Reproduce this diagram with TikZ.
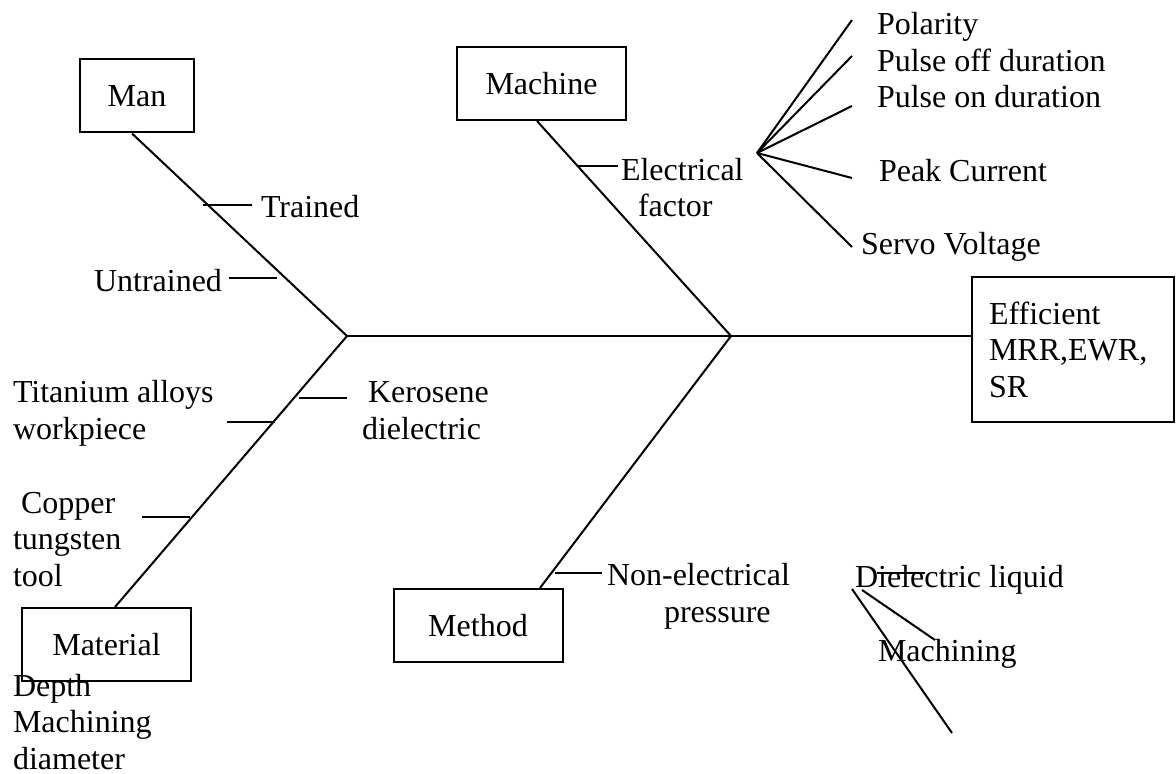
\documentclass[tikz,border=0pt]{standalone}
\usepackage{fontspec}
\setmainfont{Liberation Serif}
\tikzset{
  causebox/.style={draw, line width=1pt, minimum width=84.5pt, minimum height=36.5pt, inner sep=2pt},
  lbl/.style={anchor=base west, inner sep=0pt, align=left},
}
\begin{document}
\begin{tikzpicture}[x=0.5pt,y=-0.5pt,line width=1pt,font=\fontsize{16}{18.2}\selectfont]
\useasboundingbox (0,0) rectangle (1176,774);
% boxes
\node[causebox, minimum width=57pt] (man) at (137,96) {Man};
\node[causebox] (machine) at (541.5,83.5) {Machine};
\node[causebox] (material) at (106.5,644.5) {Material};
\node[causebox] (method) at (478,625.5) {Method};
\node[draw, minimum width=101pt, minimum height=72.5pt, text width=84pt, inner xsep=8.5pt, align=left] (effect) at (1073,349.5) {Efficient\\MRR,EWR,\\SR};
% spine and bones
\coordinate (j1) at (347,336);
\coordinate (j2) at (731,336);
\draw (j1) -- (effect.west |- j1);
\draw ([xshift=-2.5pt]man.south) -- (j1);
\draw ([xshift=-2.25pt]machine.south) -- (j2);
\draw ([xshift=4.25pt]material.north) -- (j1);
\draw ([xshift=31pt]method.north) -- (j2);
% ticks
\coordinate (t1a) at (203,205); \coordinate (t1b) at (252,205);
\coordinate (t2a) at (229,278); \coordinate (t2b) at (277,278);
\coordinate (t3a) at (578,166); \coordinate (t3b) at (618,166);
\coordinate (t4a) at (299,398); \coordinate (t4b) at (347,398);
\coordinate (t5a) at (227,422); \coordinate (t5b) at (275,422);
\coordinate (t6a) at (142,517); \coordinate (t6b) at (190,517);
\coordinate (t7a) at (555,573); \coordinate (t7b) at (602,573);
\foreach \a/\b in {t1a/t1b,t2a/t2b,t3a/t3b,t4a/t4b,t5a/t5b,t6a/t6b,t7a/t7b}
  \draw (\a) -- (\b);
% labels (multi-line ones sit on their last baseline)
\node[lbl] (trained) at (260,218) {Trained};
\node[lbl] (untrained) at (93,292) {Untrained};
\node[lbl] (elec) at (620,217) {Electrical\\\hspace*{8.5pt}factor};
\node[lbl] (kero) at (361,439) {\hspace*{3pt}Kerosene\\dielectric};
\node[lbl] (tita) at (12,439) {Titanium alloys\\workpiece};
\node[lbl] (copper) at (12,586) {\hspace*{4pt}Copper\\tungsten\\tool};
\node[lbl] (depth) at (12,769) {Depth\\Machining\\diameter};
\node[lbl] (nonel) at (606,622) {Non-electrical\\\hspace*{28.5pt}pressure};
% electrical factors
\coordinate (fan) at (757,153);
\node[lbl] (pol) at (876,35) {Polarity};
\node[lbl] (poff) at (876,72) {Pulse off duration};
\node[lbl] (pon) at (876,108) {Pulse on duration};
\node[lbl] (peak) at (878,182) {Peak Current};
\node[lbl] (servo) at (860,255) {Servo Voltage};
\coordinate (f1) at (852,20);
\coordinate (f2) at (852,56);
\coordinate (f3) at (852,106);
\coordinate (f4) at (852,178);
\coordinate (f5) at (852,247);
\foreach \f in {f1,f2,f3,f4,f5}
  \draw (fan) -- (\f);
% dielectric
\node[lbl] (diel) at (854,587) {Dielectric liquid};
\node[lbl] (mach) at (877,661) {Machining};
\coordinate (d1) at (852,589); \coordinate (d2) at (952,733);
\coordinate (d3) at (862,590); \coordinate (d4) at (935,640);
\coordinate (d5) at (877,573); \coordinate (d6) at (925,573);
\draw (d1) -- (d2);
\draw (d3) -- (d4);
\draw (d5) -- (d6);
\end{tikzpicture}
\end{document}
